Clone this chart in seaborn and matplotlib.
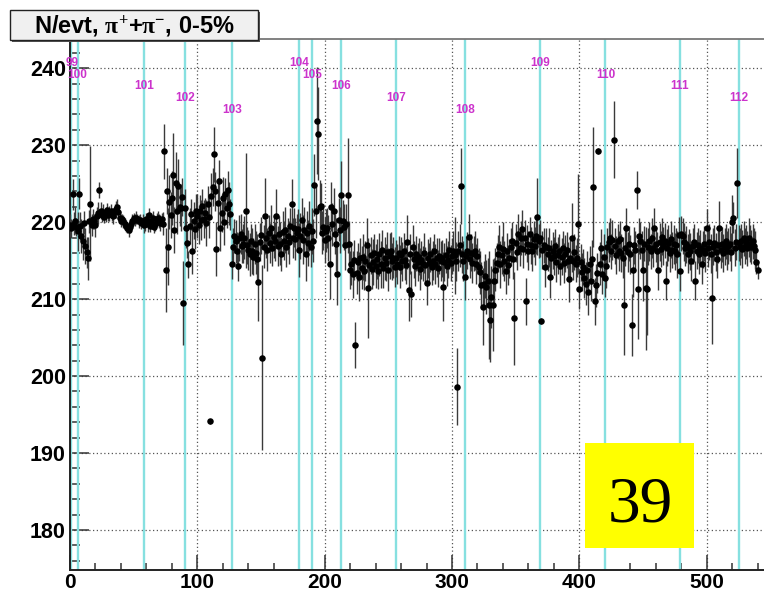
import numpy as np
import pandas as pd
import matplotlib
matplotlib.use("Agg")
import matplotlib.pyplot as plt
from matplotlib.patches import Rectangle
from matplotlib.ticker import MultipleLocator
import seaborn as sns

# ---------------- data ----------------
run_numbers = [99, 100, 101, 102, 103, 104, 105, 106, 107, 108, 109, 110, 111, 112]
run_starts = [0.5, 6, 58, 90.5, 127, 180, 190, 213, 256, 310, 369, 420.5, 479, 525]

n_per_evt = [
    219.6, 219.2, 223.6, 219.8, 220.2, 219.4,
    218.8, 223.7, 219.5, 218.2, 217.6, 219.9, 216.9, 216.1, 215.3, 220.1, 222.4, 219.6,
    220.4, 220.1, 219.6, 220.8, 221.2, 224.2, 221.5, 220.9, 221.3, 220.7,
    221.0, 221.6, 220.9, 221.1, 221.4, 221.0, 220.8, 221.5, 221.7, 222.0, 221.3, 220.6, 220.2,
    220.4, 220.1, 219.8, 219.5, 219.3, 219.0, 219.4, 219.8, 220.2, 220.5,
    220.3, 220.6, 220.4, 220.1, 220.3, 219.9, 220.2,
    219.6, 219.8, 220.4, 219.7, 220.9, 219.5, 220.1, 220.5, 219.4, 219.8,
    220.3, 220.6, 220.2, 219.9, 220.4,
    219.8, 229.2, 213.8, 224.0, 216.8, 222.6, 220.9, 223.1, 226.1, 219.0,
    225.1, 221.5, 224.7, 222.0, 221.9, 223.3, 209.5, 221.8,
    219.2, 217.3, 214.5, 219.5, 221.0, 216.3, 220.2, 219.1, 221.4, 220.8,
    219.6, 221.5, 220.3, 222.1, 220.4, 221.2, 219.9, 222.3, 220.7, 194.1,
    223.4, 224.6, 228.8, 224.0, 216.5, 222.5, 225.3, 219.3, 221.2, 223.1,
    220.0, 223.6, 221.9, 224.2, 222.4, 221.0,
    214.6, 216.8, 218.2, 217.5, 216.3, 214.3, 217.9, 218.4, 216.9, 217.2,
    218.0, 221.5, 217.0, 216.4, 215.8, 217.6, 216.2, 215.5, 217.1, 216.0,
    215.2, 212.2, 217.4, 218.3, 202.4, 216.8, 220.8, 217.9, 216.4, 218.6,
    217.3, 219.2, 216.7, 218.1, 217.5, 220.8, 216.9, 218.4, 217.2, 215.9,
    218.7, 217.6, 219.0, 216.8, 218.2, 217.4, 219.5, 222.4, 218.0, 219.3,
    217.8, 218.6, 219.1,
    216.4, 218.2, 220.3, 217.7, 219.0, 215.9, 218.6, 217.3, 219.5, 216.8, 218.9, 217.6,
    224.8, 221.5, 233.2, 231.5, 222.0, 222.1, 218.6, 219.4,
    217.7, 218.9, 219.3, 217.9, 214.5, 222.0, 219.7, 221.4, 218.4, 217.1,
    213.2, 220.3, 219.0, 223.5, 220.1, 219.4, 217.0, 219.8, 223.5, 217.2,
    213.8, 214.6, 213.2, 215.1, 204.0, 213.4, 214.8, 212.9, 215.3, 214.1,
    215.5, 213.6, 214.9, 217.0, 211.4, 214.4, 215.7, 213.9, 214.8, 216.0,
    214.3, 215.2, 213.7, 215.8, 214.5, 216.4, 214.0, 215.3, 214.7, 216.1,
    213.8, 215.6, 216.2, 214.9, 215.4, 214.2,
    215.3, 214.6, 216.0, 214.2, 215.7, 214.9, 216.3, 215.1, 214.4, 217.4,
    211.2, 215.8, 210.7, 216.8, 215.2, 214.3, 215.9, 214.8, 215.5, 213.9,
    215.1, 214.6, 216.0, 214.4, 212.1, 215.3, 214.7, 215.8, 214.2, 215.0,
    216.2, 214.5, 215.4, 214.0, 215.6, 214.9, 215.3, 211.6, 214.8, 215.7,
    214.3, 215.1, 216.4, 214.7,
    215.6, 216.3, 215.7, 214.9, 198.6, 216.2, 217.0, 224.7, 215.8, 215.0,
    212.9, 215.6, 216.3, 218.1, 215.2, 216.0, 214.7, 215.9, 216.3, 214.5,
    215.6, 214.2, 213.5, 211.8, 209.0, 211.9, 213.0, 211.6, 212.4, 209.2,
    207.3, 210.3, 209.2, 212.3, 213.8, 214.7, 215.9, 216.8, 214.5, 215.7,
    216.5, 214.9, 213.7, 216.2, 214.4, 215.3,
    216.8, 217.6, 215.2, 207.5, 217.3, 216.1, 218.4, 216.7, 217.9, 219.1,
    216.5, 218.0, 209.7, 217.2, 216.3, 218.5, 217.0, 216.2, 217.8, 216.9,
    218.2, 220.7,
    217.5, 217.9, 207.2, 216.4, 217.0, 214.2, 216.8, 215.9, 216.7, 212.9,
    215.4, 216.3, 215.6, 216.9, 214.8, 215.7, 216.2, 214.3, 215.5, 216.6,
    214.7, 215.9, 216.4, 214.9, 212.6, 215.3, 218.0, 215.0, 216.1, 214.6,
    215.4, 219.7,
    211.3, 214.8, 213.5, 214.2, 212.7, 212.0, 213.8, 210.9, 214.5, 212.4,
    215.2, 224.6, 209.7, 211.8, 213.4, 229.2, 214.6, 216.6, 213.3, 215.5,
    212.8,
    214.3, 216.8, 217.4, 218.0, 216.2, 217.7, 230.7, 216.9, 215.7, 217.5,
    216.3, 217.8, 216.0, 215.4, 209.3, 216.7, 219.3, 216.1, 217.2, 215.8,
    206.6, 213.8, 217.0, 216.4, 224.2, 211.3, 218.2,
    217.6, 216.4, 213.8, 217.2, 211.4, 211.3, 216.8, 217.5, 216.2, 218.0,
    216.6, 219.3, 217.1, 216.3, 213.8, 217.4, 216.5, 218.1, 216.9, 217.6,
    212.4, 216.7, 217.3, 216.0, 217.8, 216.4, 217.1, 216.2, 217.0,
    215.8, 218.3, 213.6, 218.5, 218.2, 217.4, 216.6, 217.1, 215.9, 216.8,
    216.2, 215.0, 216.9, 217.4, 212.4, 216.3, 217.0, 215.8, 216.6, 214.6,
    216.4, 217.2, 216.0, 219.3,
    216.6, 217.4, 215.9, 210.2, 216.8, 217.3, 216.1, 215.2, 217.0, 219.3,
    216.4, 217.1, 216.0, 216.8, 217.5, 216.3, 216.9, 217.2, 216.1, 220.0,
    220.6, 216.7, 217.4, 225.1,
    217.3, 216.8, 217.6, 216.5, 217.9, 216.9, 217.4, 216.6, 218.0, 217.2,
    216.8, 217.5, 216.9, 216.4, 214.8, 213.8,
]

n_err = [
    1.5, 1.2, 2.0, 1.5, 1.8, 1.2,
    2.5, 2.0, 1.8, 2.2, 2.5, 1.5, 2.4, 2.0, 2.8, 1.5, 7.5, 1.4,
    1.3, 1.0, 1.5, 1.2, 1.4, 1.0, 1.1, 0.9, 1.0, 0.8,
    1.0, 0.9, 0.8, 1.0, 0.9, 0.8, 1.0, 0.9, 1.1, 1.0, 0.8, 0.9, 0.8,
    0.7, 0.8, 0.7, 0.8, 0.7, 0.9, 0.8, 0.7, 0.8, 0.7,
    0.8, 0.9, 0.7, 0.8, 0.7, 0.8, 0.9,
    1.0, 0.9, 0.8, 1.0, 0.9, 0.8, 1.0, 0.9, 0.8, 1.0,
    0.9, 0.8, 0.9, 1.0, 0.8,
    1.5, 3.6, 5.5, 3.0, 5.0, 3.5, 3.0, 3.5, 5.5, 3.0,
    4.0, 3.0, 3.5, 2.5, 3.0, 2.5, 5.5, 2.5,
    2.5, 2.0, 1.8, 2.3, 2.0, 3.0, 2.4, 2.6, 2.2, 2.8,
    2.5, 2.0, 2.6, 2.2, 2.5, 2.0, 3.0, 2.4, 2.8, 0.3,
    3.0, 2.5, 3.6, 2.5, 3.5, 3.2, 2.8, 3.0, 2.5, 2.8,
    3.0, 2.2, 2.6, 2.5, 2.8, 2.0,
    2.0, 2.5, 2.2, 2.8, 2.4, 2.0, 3.0, 2.6, 2.2, 2.5,
    2.8, 7.5, 2.4, 2.6, 2.8, 2.2, 3.0, 2.4, 2.6, 2.8,
    3.2, 5.0, 2.5, 2.4, 12.0, 2.8, 5.0, 2.5, 2.8, 2.3,
    2.6, 3.0, 2.4, 2.7, 2.5, 3.5, 2.6, 2.4, 2.8, 2.2,
    2.7, 2.5, 3.0, 2.6, 2.3, 2.8, 2.4, 3.2, 2.6, 2.5,
    2.7, 2.4, 2.6,
    3.5, 3.0, 2.8, 3.2, 3.0, 3.6, 2.8, 3.0, 3.2, 2.6, 3.0, 2.8,
    4.0, 3.5, 7.0, 6.0, 3.5, 3.0, 2.8, 3.0,
    3.0, 2.8, 2.6, 3.0, 4.5, 3.2, 2.8, 3.0, 2.6, 3.5,
    4.0, 2.8, 3.0, 4.5, 2.8, 3.0, 3.2, 2.6, 7.5, 3.0,
    2.5, 2.8, 3.0, 2.6, 3.0, 2.8, 2.5, 3.2, 2.6, 2.8,
    3.0, 2.4, 2.6, 3.5, 6.5, 2.8, 2.4, 2.6, 3.0, 2.5,
    2.8, 2.6, 2.4, 2.8, 3.0, 2.6, 2.5, 2.8, 2.4, 2.6,
    2.8, 3.0, 2.5, 2.4, 2.7, 2.6,
    2.4, 2.6, 2.2, 2.8, 2.4, 2.5, 2.3, 2.6, 2.4, 3.5,
    4.0, 2.6, 3.0, 2.8, 2.4, 2.6, 2.3, 2.5, 2.4, 2.7,
    2.5, 2.3, 2.6, 2.4, 2.8, 2.5, 2.6, 2.3, 2.4, 2.5,
    2.2, 2.6, 2.5, 2.4, 2.3, 2.6, 2.4, 4.5, 2.5, 2.3,
    2.6, 2.4, 2.5, 2.3,
    2.4, 2.6, 5.0, 2.5, 5.0, 2.6, 2.8, 5.0, 2.4, 2.6,
    3.0, 2.6, 2.4, 3.0, 2.5, 2.4, 2.6, 2.3, 2.5, 2.6,
    2.4, 2.5, 2.8, 3.0, 5.0, 3.0, 2.8, 3.5, 3.0, 7.0,
    5.5, 4.0, 6.0, 3.0, 2.8, 2.6, 2.4, 2.8, 3.0, 2.5,
    3.5, 2.6, 3.0, 2.4, 2.6, 2.5,
    2.5, 2.4, 2.6, 6.0, 2.5, 2.3, 2.6, 2.4, 2.2, 2.5,
    2.4, 2.3, 3.0, 2.4, 2.5, 2.2, 2.4, 2.6, 2.3, 2.5,
    2.4, 5.0,
    2.2, 2.4, 0.4, 2.5, 2.3, 2.6, 2.4, 2.2, 2.5, 2.8,
    2.3, 2.4, 2.5, 2.2, 2.6, 2.4, 2.3, 2.5, 2.4, 2.2,
    2.6, 2.4, 2.3, 2.5, 3.0, 2.4, 4.5, 2.5, 2.3, 2.4,
    2.5, 6.5,
    2.6, 2.4, 2.5, 2.3, 2.6, 2.8, 2.5, 3.0, 2.4, 2.6,
    2.5, 7.8, 3.0, 2.8, 2.6, 0.4, 2.8, 2.5, 2.6, 3.0,
    2.5,
    2.8, 2.4, 2.6, 2.5, 2.3, 2.6, 5.0, 2.4, 2.5, 2.3,
    2.6, 2.4, 2.5, 2.7, 6.5, 2.4, 2.5, 2.6, 2.3, 2.5,
    4.0, 3.5, 2.4, 2.5, 2.5, 6.5, 2.4,
    2.4, 2.5, 4.0, 2.3, 8.0, 6.0, 2.4, 2.5, 2.3, 2.6,
    2.4, 2.5, 2.3, 2.4, 2.6, 2.5, 2.3, 2.4, 2.5, 2.3,
    2.5, 2.4, 2.3, 2.5, 2.4, 2.3, 2.5, 2.4, 2.3,
    3.0, 2.4, 2.5, 2.3, 2.4, 2.5, 2.3, 2.4, 2.5, 2.3,
    2.4, 2.6, 2.3, 2.4, 2.5, 2.4, 2.3, 2.5, 2.4, 2.6,
    2.4, 2.3, 2.5, 2.4,
    2.4, 2.3, 2.5, 6.0, 2.4, 2.3, 2.5, 2.4, 2.3, 3.5,
    2.4, 2.3, 2.5, 2.4, 2.3, 2.5, 2.4, 2.3, 2.5, 3.5,
    2.0, 2.4, 2.3, 4.5,
    2.3, 2.4, 2.2, 2.5, 2.3, 2.4, 2.2, 2.3, 2.5, 2.4,
    2.2, 2.3, 2.4, 2.5, 1.5, 1.2,
]

x_ticks = [0, 100, 200, 300, 400, 500]
y_ticks = [180, 190, 200, 210, 220, 230, 240]
title_text = r"N/evt, $\mathrm{\pi}^{+}$+$\mathrm{\pi}^{-}$, 0-5%"
badge_text = "39"

# ---------------- style ----------------
sns.set_theme(style="white")
plt.rcParams['font.family'] = ['Liberation Sans', 'DejaVu Sans']
plt.rcParams['font.weight'] = 'bold'
plt.rcParams['mathtext.fontset'] = 'custom'
plt.rcParams['mathtext.rm'] = 'Liberation Serif'
plt.rcParams['mathtext.it'] = 'Liberation Serif:italic'
plt.rcParams['mathtext.bf'] = 'Liberation Serif:bold'

W, H = 764, 595
fig = plt.figure(figsize=(W / 100, H / 100), dpi=100)
fig.patch.set_facecolor('white')
ax = fig.add_axes([70 / W, 1 - 570 / H, 694 / W, (570 - 39) / H])
ax.set_facecolor('white')

df = pd.DataFrame({
    'bin': np.arange(len(n_per_evt)),
    'n': n_per_evt,
    'err': n_err,
})

# grid
ax.set_axisbelow(True)
ax.grid(True, which='major', linestyle=(0, (1, 2)), color='#555555', linewidth=0.9)

# run boundaries and labels
for i, (run, start) in enumerate(zip(run_numbers, run_starts)):
    ax.axvline(start, color='#86e0e0', linewidth=1.7, zorder=1.5)
    ax.text(start + (1.5 if i == 0 else 0), 240.7 - 1.52 * (i % 5), str(run),
            color='#cc33cc', fontsize=8.5, fontweight='bold',
            ha='center', va='center', zorder=6)

# error bars and points
ax.errorbar(df['bin'], df['n'], yerr=df['err'], fmt='none',
            ecolor='#3a3a3a', elinewidth=1.0, capsize=0, zorder=3)
sns.scatterplot(data=df, x='bin', y='n', ax=ax, s=22, color='black',
                linewidth=0, zorder=4, legend=False)

ax.set_xlabel('')
ax.set_ylabel('')
ax.set_xlim(0, 545)
ax.set_ylim(174.8, 243.8)

ax.set_xticks(x_ticks)
ax.set_yticks(y_ticks)
ax.xaxis.set_minor_locator(MultipleLocator(20))
ax.yaxis.set_minor_locator(MultipleLocator(2))
ax.tick_params(axis='both', which='both', direction='in', color='#333333',
               width=1.1, left=True, bottom=True, top=False, right=False)
ax.tick_params(axis='y', which='major', length=14, pad=3, labelsize=15.5)
ax.tick_params(axis='y', which='minor', length=7)
ax.tick_params(axis='x', which='major', length=11, pad=2, labelsize=15)
ax.tick_params(axis='x', which='minor', length=5)
for lbl in ax.get_xticklabels() + ax.get_yticklabels():
    lbl.set_fontweight('bold')
    lbl.set_color('black')

ax.spines['right'].set_visible(False)
ax.spines['top'].set_color('#777777')
ax.spines['top'].set_linewidth(1.3)
for side in ('left', 'bottom'):
    ax.spines[side].set_color('#222222')
    ax.spines[side].set_linewidth(1.4)

# title box with shadow
shadow = Rectangle((12 / W, 1 - 42 / H), 248 / W, 30 / H, transform=fig.transFigure,
                   facecolor='#555555', edgecolor='none', zorder=10)
box = Rectangle((10 / W, 1 - 40 / H), 248 / W, 30 / H, transform=fig.transFigure,
                facecolor='#f0f0f0', edgecolor='#222222', linewidth=1.0, zorder=11)
fig.patches.extend([shadow, box])
fig.text(134 / W, 1 - 32 / H, title_text, ha='center', va='baseline',
         fontsize=17, fontweight='bold', color='black', zorder=12)

# yellow badge
badge = Rectangle((585 / W, 1 - 548 / H), 109 / W, 105 / H, transform=fig.transFigure,
                  facecolor='#ffff00', edgecolor='none', zorder=10)
fig.patches.append(badge)
fig.text(640 / W, 1 - 522 / H, badge_text, ha='center', va='baseline',
         fontsize=47, fontweight='normal', family='Liberation Serif',
         color='black', zorder=12)

fig.savefig('out.png', dpi=100)
